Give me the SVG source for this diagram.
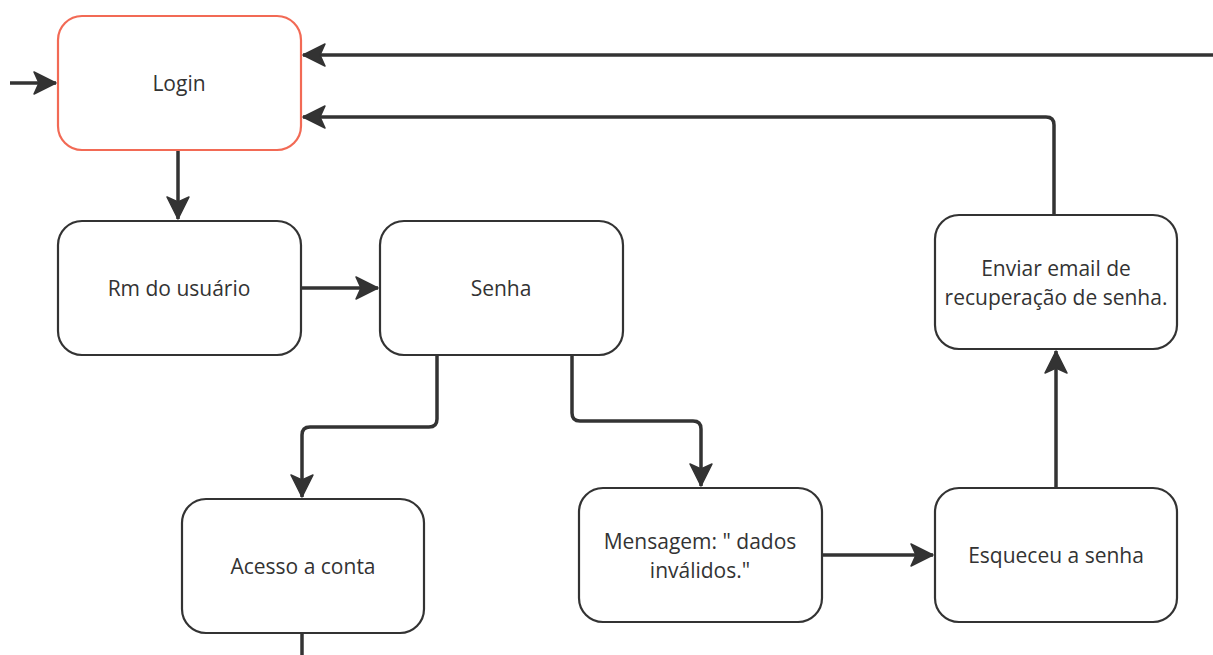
<svg xmlns="http://www.w3.org/2000/svg" width="1213" height="655" viewBox="0 0 1213 655">
<style>
.node rect{fill:#fff;stroke:#333;stroke-width:2.2}
.node.start rect{stroke:#f26a55}
.node text{font-family:"Open Sans","Noto Sans",sans-serif;font-size:21px;fill:#333;text-anchor:middle;dominant-baseline:central}
.conn path{fill:none;stroke:#333;stroke-width:3.5;stroke-linejoin:round}
</style>
<defs>
<marker id="arr" markerUnits="userSpaceOnUse" markerWidth="26" markerHeight="26" viewBox="0 0 26 26" refX="24" refY="13" orient="auto">
<path d="M2,2 L24,13 L2,24 L7,13 z" fill="#333" stroke="#333" stroke-width="1.5" stroke-linejoin="round"/>
</marker>
</defs>
<rect width="1213" height="655" fill="#fff"/>
<g id="connectors" class="conn">
<path d="M10,83 H56" marker-end="url(#arr)"/>
<path d="M1213,55 H303" marker-end="url(#arr)"/>
<path d="M1054,215 V125 Q1054,117 1046,117 H303" marker-end="url(#arr)"/>
<path d="M178,150 V219" marker-end="url(#arr)"/>
<path d="M301,288 H378" marker-end="url(#arr)"/>
<path d="M437,355 V419 Q437,427 429,427 H310 Q302,427 302,435 V497" marker-end="url(#arr)"/>
<path d="M572,355 V413 Q572,421 580,421 H693 Q701,421 701,429 V486" marker-end="url(#arr)"/>
<path d="M822,555 H933" marker-end="url(#arr)"/>
<path d="M1056,488 V351" marker-end="url(#arr)"/>
<path d="M302,633 V655"/>
</g>
<g id="login" class="node start">
<rect x="58" y="16" width="243" height="134" rx="24"/>
<text x="179" y="83">Login</text>
</g>
<g id="rm" class="node">
<rect x="58" y="221" width="243" height="134" rx="24"/>
<text x="179" y="288">Rm do usuário</text>
</g>
<g id="senha" class="node">
<rect x="380" y="221" width="243" height="134" rx="24"/>
<text x="501" y="288">Senha</text>
</g>
<g id="enviar" class="node">
<rect x="935" y="215" width="242" height="134" rx="24"/>
<text x="1056" y="268">Enviar email de</text>
<text x="1056" y="297">recuperação de senha.</text>
</g>
<g id="acesso" class="node">
<rect x="182" y="499" width="242" height="134" rx="24"/>
<text x="303" y="566">Acesso a conta</text>
</g>
<g id="mensagem" class="node">
<rect x="579" y="488" width="243" height="134" rx="24"/>
<text x="700" y="541">Mensagem: " dados</text>
<text x="700" y="570">inválidos."</text>
</g>
<g id="esqueceu" class="node">
<rect x="935" y="488" width="242" height="134" rx="24"/>
<text x="1056" y="555">Esqueceu a senha</text>
</g>
</svg>
